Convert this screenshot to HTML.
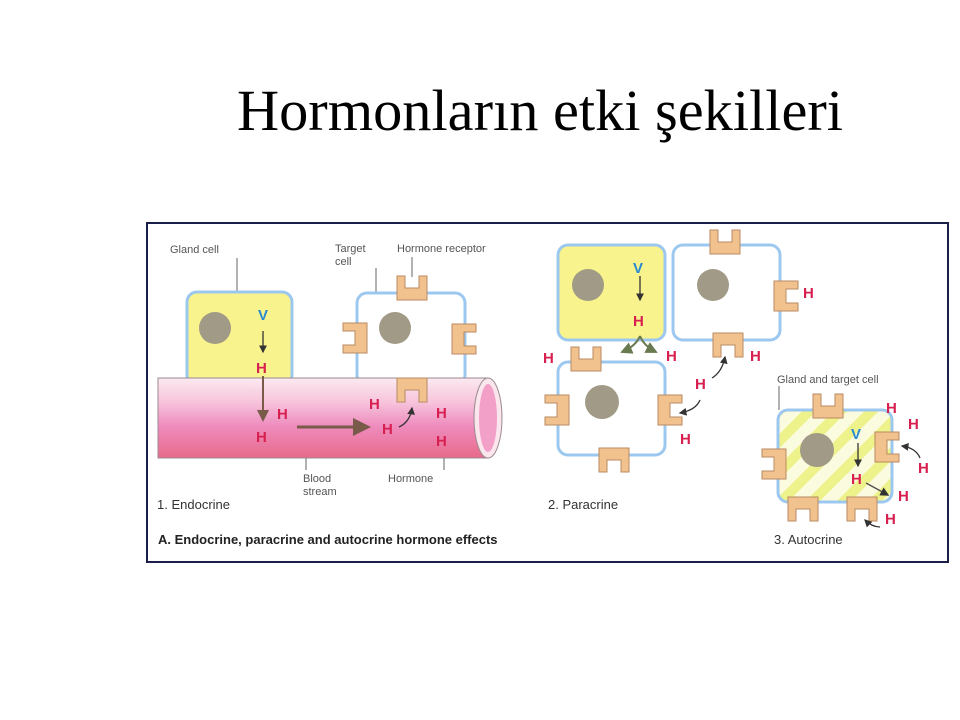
<!DOCTYPE html>
<html><head><meta charset="utf-8"><style>
html,body{margin:0;padding:0;background:#fff;width:960px;height:720px;overflow:hidden}
svg{display:block}
</style></head><body>
<svg width="960" height="720" viewBox="0 0 960 720" xmlns="http://www.w3.org/2000/svg" font-family="Liberation Sans, sans-serif">
<defs>
<g id="rc"><path d="M0,0 h8 v12 h14 v-12 h8 v24 h-30 z" fill="#f2c28e" stroke="#b88a60" stroke-width="1"/></g>
<linearGradient id="tube" x1="0" y1="0" x2="0" y2="1">
<stop offset="0" stop-color="#fbeaf0"/><stop offset="0.3" stop-color="#f7c4dc"/><stop offset="0.6" stop-color="#ee8cbe"/><stop offset="1" stop-color="#e86a8a"/></linearGradient>
<pattern id="hatch" width="22" height="22" patternUnits="userSpaceOnUse" patternTransform="rotate(-45)">
<rect width="22" height="22" fill="#fbfbe0"/><rect width="22" height="10" fill="#eef28a"/></pattern>
<marker id="ah" markerWidth="6" markerHeight="6" refX="5" refY="3" orient="auto"><path d="M0,0 L6,3 L0,6 z" fill="#333"/></marker>
<marker id="ab" markerWidth="6" markerHeight="6" refX="5" refY="3" orient="auto"><path d="M0,0 L6,3 L0,6 z" fill="#7a5a48"/></marker>
<marker id="ag" markerWidth="6" markerHeight="6" refX="5" refY="3" orient="auto"><path d="M0,0 L6,3 L0,6 z" fill="#6a7a50"/></marker>
</defs>
<text x="540" y="130" text-anchor="middle" font-family="Liberation Serif, serif" font-size="58" fill="#000" textLength="606" lengthAdjust="spacingAndGlyphs">Hormonların etki şekilleri</text>
<rect x="147" y="223" width="801" height="339" fill="#fff" stroke="#1a1f4a" stroke-width="2"/>

<g font-size="11" fill="#555">
<text x="170" y="253">Gland cell</text>
<text x="335" y="252">Target</text><text x="335" y="265">cell</text>
<text x="397" y="252">Hormone receptor</text>
<text x="303" y="482">Blood</text><text x="303" y="495">stream</text>
<text x="388" y="482">Hormone</text>
</g>
<g stroke="#666" stroke-width="1">
<line x1="237" y1="258" x2="237" y2="292"/><line x1="376" y1="268" x2="376" y2="293"/>
<line x1="412" y1="257" x2="412" y2="277"/><line x1="306" y1="458" x2="306" y2="470"/><line x1="444" y1="458" x2="444" y2="470"/>
<line x1="779" y1="386" x2="779" y2="410"/>
</g>

<rect x="187" y="292" width="105" height="93" rx="10" fill="#f8f38c" stroke="#9cc8f0" stroke-width="3"/>
<circle cx="215" cy="328" r="16" fill="#a09a86"/>
<rect x="357" y="293" width="108" height="92" rx="10" fill="#fff" stroke="#9cc8f0" stroke-width="3"/>
<circle cx="395" cy="328" r="16" fill="#a09a86"/>
<use href="#rc" transform="translate(397,276)"/>
<use href="#rc" transform="translate(343,353) rotate(-90)"/>
<use href="#rc" transform="translate(476,324) rotate(90)"/>
<use href="#rc" transform="translate(427,402) rotate(180)"/>
<rect x="158" y="378" width="330" height="80" fill="url(#tube)" stroke="#9a8a90" stroke-width="1"/>
<use href="#rc" transform="translate(427,402) rotate(180)"/>
<ellipse cx="488" cy="418" rx="14" ry="40" fill="#fbe6ee" stroke="#9a8a90"/>
<ellipse cx="488" cy="418" rx="9" ry="34" fill="#f2a0c8"/>
<line x1="263" y1="331" x2="263" y2="352" stroke="#333" stroke-width="1.3" marker-end="url(#ah)"/>
<line x1="263" y1="376" x2="263" y2="420" stroke="#7a5a48" stroke-width="2" marker-end="url(#ab)"/>
<line x1="297" y1="427" x2="368" y2="427" stroke="#7a5a48" stroke-width="3" marker-end="url(#ab)"/>
<path d="M399,427 Q410,422 412,408" fill="none" stroke="#333" stroke-width="1.3" marker-end="url(#ah)"/>

<rect x="558" y="245" width="107" height="95" rx="10" fill="#f8f38c" stroke="#9cc8f0" stroke-width="3"/>
<circle cx="588" cy="285" r="16" fill="#a09a86"/>
<rect x="673" y="245" width="107" height="95" rx="10" fill="#fff" stroke="#9cc8f0" stroke-width="3"/>
<circle cx="713" cy="285" r="16" fill="#a09a86"/>
<rect x="558" y="362" width="107" height="93" rx="10" fill="#fff" stroke="#9cc8f0" stroke-width="3"/>
<circle cx="602" cy="402" r="17" fill="#a09a86"/>
<use href="#rc" transform="translate(710,230)"/>
<use href="#rc" transform="translate(798,281) rotate(90)"/>
<use href="#rc" transform="translate(743,357) rotate(180)"/>
<use href="#rc" transform="translate(571,347)"/>
<use href="#rc" transform="translate(545,425) rotate(-90)"/>
<use href="#rc" transform="translate(682,395) rotate(90)"/>
<use href="#rc" transform="translate(629,472) rotate(180)"/>
<line x1="640" y1="276" x2="640" y2="300" stroke="#333" stroke-width="1.3" marker-end="url(#ah)"/>
<path d="M640,336 Q636,346 622,352" fill="none" stroke="#6a7a50" stroke-width="2" marker-end="url(#ag)"/>
<path d="M640,336 Q644,346 656,352" fill="none" stroke="#6a7a50" stroke-width="2" marker-end="url(#ag)"/>
<path d="M712,378 Q722,372 725,357" fill="none" stroke="#333" stroke-width="1.3" marker-end="url(#ah)"/>
<path d="M700,400 Q696,410 680,413" fill="none" stroke="#333" stroke-width="1.3" marker-end="url(#ah)"/>

<rect x="778" y="410" width="114" height="92" rx="10" fill="url(#hatch)" stroke="#9cc8f0" stroke-width="3"/>
<circle cx="817" cy="450" r="17" fill="#a09a86"/>
<use href="#rc" transform="translate(813,394)"/>
<use href="#rc" transform="translate(762,479) rotate(-90)"/>
<use href="#rc" transform="translate(899,432) rotate(90)"/>
<use href="#rc" transform="translate(818,521) rotate(180)"/>
<use href="#rc" transform="translate(877,521) rotate(180)"/>
<line x1="858" y1="443" x2="858" y2="466" stroke="#333" stroke-width="1.3" marker-end="url(#ah)"/>
<line x1="866" y1="483" x2="888" y2="495" stroke="#555" stroke-width="1.5" marker-end="url(#ah)"/>
<path d="M920,458 Q916,448 902,446" fill="none" stroke="#333" stroke-width="1.3" marker-end="url(#ah)"/>
<path d="M880,527 Q872,527 865,520" fill="none" stroke="#333" stroke-width="1.3" marker-end="url(#ah)"/>

<g font-weight="bold" font-size="15" fill="#d82050">
<text x="256" y="373">H</text><text x="256" y="442">H</text><text x="277" y="419">H</text>
<text x="369" y="409">H</text><text x="382" y="434">H</text><text x="436" y="418">H</text><text x="436" y="446">H</text>
<text x="633" y="326">H</text><text x="803" y="298">H</text><text x="750" y="361">H</text>
<text x="543" y="363">H</text><text x="666" y="361">H</text><text x="695" y="389">H</text><text x="680" y="444">H</text>
<text x="851" y="484">H</text><text x="886" y="413">H</text><text x="908" y="429">H</text><text x="918" y="473">H</text>
<text x="898" y="501">H</text><text x="885" y="524">H</text>
</g>
<g font-weight="bold" font-size="15" fill="#2a8ad0">
<text x="258" y="320">V</text><text x="633" y="273">V</text><text x="851" y="439">V</text>
</g>
<g font-size="13" fill="#333">
<text x="157" y="509">1. Endocrine</text>
<text x="548" y="509">2. Paracrine</text>
<text x="774" y="544">3. Autocrine</text>
<text x="158" y="544" font-weight="bold" fill="#222">A. Endocrine, paracrine and autocrine hormone effects</text>
</g>
<text x="777" y="383" font-size="11" fill="#555">Gland and target cell</text>
</svg>
</body></html>
